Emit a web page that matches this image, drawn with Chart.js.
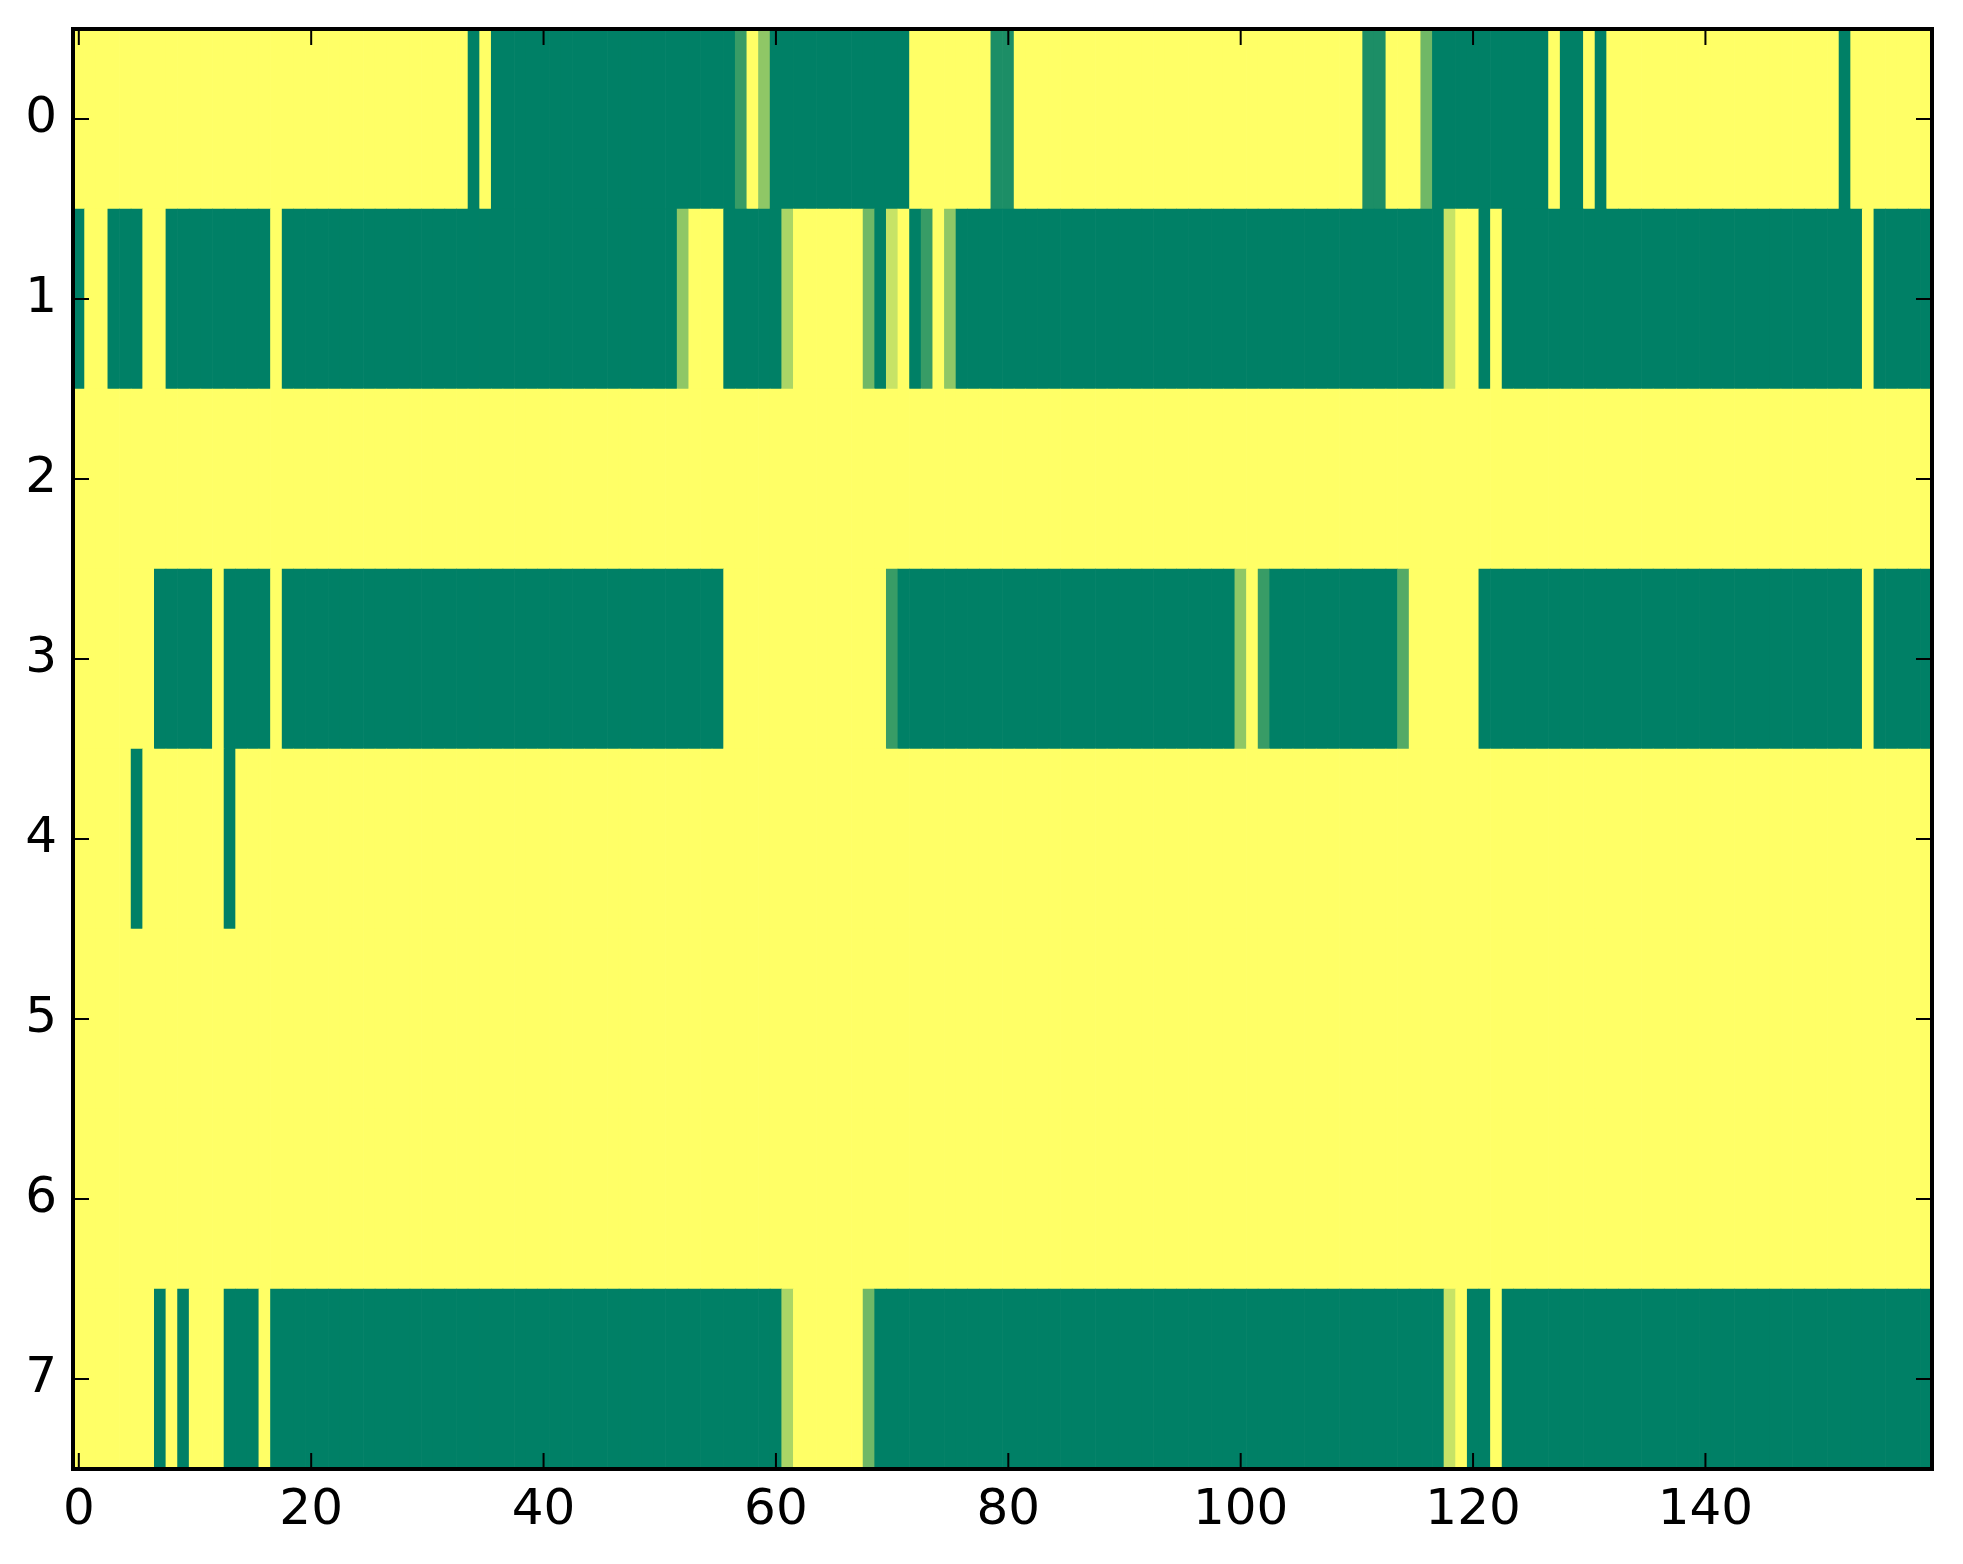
<!DOCTYPE html>
<html>
<head>
<meta charset="utf-8">
<script src="https://cdn.jsdelivr.net/npm/chart.js@4.4.0/dist/chart.umd.min.js"></script>
<style>
html,body{margin:0;padding:0;background:#ffffff;}
#wrap{width:1963px;height:1564px;}
</style>
</head>
<body>
<div id="wrap"><canvas id="c" width="1963" height="1564" style="width:1963px;height:1564px"></canvas></div>
<script>
// ---- data ----
const xTickValues = [0, 20, 40, 60, 80, 100, 120, 140];
const yTickValues = [0, 1, 2, 3, 4, 5, 6, 7];

const row0 = [
  1,1,1,1,1,1,1,1,1,1,1,1,1,1,1,1,1,1,1,1,
  1,1,1,1,1,1,1,1,1,1,1,1,1,1,0,1,0,0,0,0,
  0,0,0,0,0,0,0,0,0,0,0,0,0,0,0,0,0,0.22,1,0.56,
  0,0,0,0,0,0,0,0,0,0,0,0,1,1,1,1,1,1,1,0.11,
  0.11,1,1,1,1,1,1,1,1,1,1,1,1,1,1,1,1,1,1,1,
  1,1,1,1,1,1,1,1,1,1,1,0.11,0.11,1,1,1,0.44,0,0,0,
  0,0,0,0,0,0,0,1,0,0,1,0,1,1,1,1,1,1,1,1,
  1,1,1,1,1,1,1,1,1,1,1,1,0,1,1,1,1,1,1,1
];
const row1 = [
  0,1,1,0,0,0,1,1,0,0,0,0,0,0,0,0,0,1,0,0,
  0,0,0,0,0,0,0,0,0,0,0,0,0,0,0,0,0,0,0,0,
  0,0,0,0,0,0,0,0,0,0,0,0,0.56,1,1,1,0,0,0,0,
  0,0.67,1,1,1,1,1,1,0.44,0,0.78,1,0,0.22,1,0.56,0,0,0,0,
  0,0,0,0,0,0,0,0,0,0,0,0,0,0,0,0,0,0,0,0,
  0,0,0,0,0,0,0,0,0,0,0,0,0,0,0,0,0,0,0.78,1,
  1,0,1,0,0,0,0,0,0,0,0,0,0,0,0,0,0,0,0,0,
  0,0,0,0,0,0,0,0,0,0,0,0,0,0,1,0,0,0,0,0
];
const row2 = [
  1,1,1,1,1,1,1,1,1,1,1,1,1,1,1,1,1,1,1,1,
  1,1,1,1,1,1,1,1,1,1,1,1,1,1,1,1,1,1,1,1,
  1,1,1,1,1,1,1,1,1,1,1,1,1,1,1,1,1,1,1,1,
  1,1,1,1,1,1,1,1,1,1,1,1,1,1,1,1,1,1,1,1,
  1,1,1,1,1,1,1,1,1,1,1,1,1,1,1,1,1,1,1,1,
  1,1,1,1,1,1,1,1,1,1,1,1,1,1,1,1,1,1,1,1,
  1,1,1,1,1,1,1,1,1,1,1,1,1,1,1,1,1,1,1,1,
  1,1,1,1,1,1,1,1,1,1,1,1,1,1,1,1,1,1,1,1
];
const row3 = [
  1,1,1,1,1,1,1,0,0,0,0,0,1,0,0,0,0,1,0,0,
  0,0,0,0,0,0,0,0,0,0,0,0,0,0,0,0,0,0,0,0,
  0,0,0,0,0,0,0,0,0,0,0,0,0,0,0,0,1,1,1,1,
  1,1,1,1,1,1,1,1,1,1,0.22,0,0,0,0,0,0,0,0,0,
  0,0,0,0,0,0,0,0,0,0,0,0,0,0,0,0,0,0,0,0,
  0.56,1,0.22,0,0,0,0,0,0,0,0,0,0,0,0.33,1,1,1,1,1,
  1,0,0,0,0,0,0,0,0,0,0,0,0,0,0,0,0,0,0,0,
  0,0,0,0,0,0,0,0,0,0,0,0,0,0,1,0,0,0,0,0
];
const row4 = [
  1,1,1,1,1,0,1,1,1,1,1,1,1,0,1,1,1,1,1,1,
  1,1,1,1,1,1,1,1,1,1,1,1,1,1,1,1,1,1,1,1,
  1,1,1,1,1,1,1,1,1,1,1,1,1,1,1,1,1,1,1,1,
  1,1,1,1,1,1,1,1,1,1,1,1,1,1,1,1,1,1,1,1,
  1,1,1,1,1,1,1,1,1,1,1,1,1,1,1,1,1,1,1,1,
  1,1,1,1,1,1,1,1,1,1,1,1,1,1,1,1,1,1,1,1,
  1,1,1,1,1,1,1,1,1,1,1,1,1,1,1,1,1,1,1,1,
  1,1,1,1,1,1,1,1,1,1,1,1,1,1,1,1,1,1,1,1
];
const row5 = [
  1,1,1,1,1,1,1,1,1,1,1,1,1,1,1,1,1,1,1,1,
  1,1,1,1,1,1,1,1,1,1,1,1,1,1,1,1,1,1,1,1,
  1,1,1,1,1,1,1,1,1,1,1,1,1,1,1,1,1,1,1,1,
  1,1,1,1,1,1,1,1,1,1,1,1,1,1,1,1,1,1,1,1,
  1,1,1,1,1,1,1,1,1,1,1,1,1,1,1,1,1,1,1,1,
  1,1,1,1,1,1,1,1,1,1,1,1,1,1,1,1,1,1,1,1,
  1,1,1,1,1,1,1,1,1,1,1,1,1,1,1,1,1,1,1,1,
  1,1,1,1,1,1,1,1,1,1,1,1,1,1,1,1,1,1,1,1
];
const row6 = [
  1,1,1,1,1,1,1,1,1,1,1,1,1,1,1,1,1,1,1,1,
  1,1,1,1,1,1,1,1,1,1,1,1,1,1,1,1,1,1,1,1,
  1,1,1,1,1,1,1,1,1,1,1,1,1,1,1,1,1,1,1,1,
  1,1,1,1,1,1,1,1,1,1,1,1,1,1,1,1,1,1,1,1,
  1,1,1,1,1,1,1,1,1,1,1,1,1,1,1,1,1,1,1,1,
  1,1,1,1,1,1,1,1,1,1,1,1,1,1,1,1,1,1,1,1,
  1,1,1,1,1,1,1,1,1,1,1,1,1,1,1,1,1,1,1,1,
  1,1,1,1,1,1,1,1,1,1,1,1,1,1,1,1,1,1,1,1
];
const row7 = [
  1,1,1,1,1,1,1,0,1,0,1,1,1,0,0,0,1,0,0,0,
  0,0,0,0,0,0,0,0,0,0,0,0,0,0,0,0,0,0,0,0,
  0,0,0,0,0,0,0,0,0,0,0,0,0,0,0,0,0,0,0,0,
  0,0.67,1,1,1,1,1,1,0.44,0,0,0,0,0,0,0,0,0,0,0,
  0,0,0,0,0,0,0,0,0,0,0,0,0,0,0,0,0,0,0,0,
  0,0,0,0,0,0,0,0,0,0,0,0,0,0,0,0,0,0,0.78,1,
  0,0,1,0,0,0,0,0,0,0,0,0,0,0,0,0,0,0,0,0,
  0,0,0,0,0,0,0,0,0,0,0,0,0,0,0,0,0,0,0,0
];
const rows = [row0, row1, row2, row3, row4, row5, row6, row7];

// matplotlib "summer" colormap
function summer(v) {
  return 'rgb(' + Math.round(255 * v) + ',' + Math.round(127.5 + 127.5 * v) + ',102)';
}

const points = [];
const colors = [];
rows.forEach(function (vals, r) {
  vals.forEach(function (v, c) {
    points.push({ x: c, y: [r - 0.5, r + 0.5] });
    colors.push(summer(v));
  });
});

const frame = {
  id: 'frame',
  afterDatasetsDraw: function (chart) {
    const ctx = chart.ctx;
    const a = chart.chartArea;
    const xs = chart.scales.x, ys = chart.scales.y;
    const tl = 16;
    ctx.save();
    ctx.strokeStyle = '#000';
    ctx.lineWidth = 2;
    ctx.beginPath();
    xTickValues.forEach(function (v) {
      const px = xs.getPixelForValue(v);
      ctx.moveTo(px, a.bottom); ctx.lineTo(px, a.bottom - tl);
      ctx.moveTo(px, a.top); ctx.lineTo(px, a.top + tl);
    });
    yTickValues.forEach(function (v) {
      const py = ys.getPixelForValue(v);
      ctx.moveTo(a.left, py); ctx.lineTo(a.left + tl, py);
      ctx.moveTo(a.right, py); ctx.lineTo(a.right - tl, py);
    });
    ctx.stroke();
    ctx.lineWidth = 4;
    ctx.strokeRect(a.left, a.top, a.right - a.left, a.bottom - a.top);
    ctx.restore();
  }
};

const font = { family: 'DejaVu Sans', size: 50 };

new Chart(document.getElementById('c').getContext('2d'), {
  type: 'bar',
  data: {
    datasets: [{
      data: points,
      backgroundColor: colors,
      borderWidth: 0,
      barPercentage: 1,
      categoryPercentage: 1
    }]
  },
  options: {
    responsive: false,
    devicePixelRatio: 1,
    animation: false,
    layout: { padding: { left: 0, right: 31, top: 29, bottom: 0 } },
    plugins: { legend: { display: false }, tooltip: { enabled: false } },
    scales: {
      x: {
        type: 'linear', min: -0.5, max: 159.5, offset: false,
        grid: { display: false, drawTicks: false, offset: false },
        border: { display: false },
        afterBuildTicks: function (s) { s.ticks = xTickValues.map(function (v) { return { value: v }; }); },
        afterFit: function (s) { s.height = 95; s.paddingLeft = 0; s.paddingRight = 0; },
        ticks: { font: font, color: '#000', padding: 12, maxRotation: 0, autoSkip: false,
                 callback: function (v) { return String(v); } }
      },
      y: {
        type: 'linear', reverse: true, min: -0.5, max: 7.5, stacked: false,
        grid: { display: false, drawTicks: false },
        border: { display: false },
        afterBuildTicks: function (s) { s.ticks = yTickValues.map(function (v) { return { value: v }; }); },
        afterFit: function (s) { s.width = 73; s.paddingTop = 0; s.paddingBottom = 0; },
        ticks: { font: font, color: '#000', padding: 16, autoSkip: false,
                 callback: function (v) { return String(v); } }
      }
    }
  },
  plugins: [frame]
});
</script>
</body>
</html>
